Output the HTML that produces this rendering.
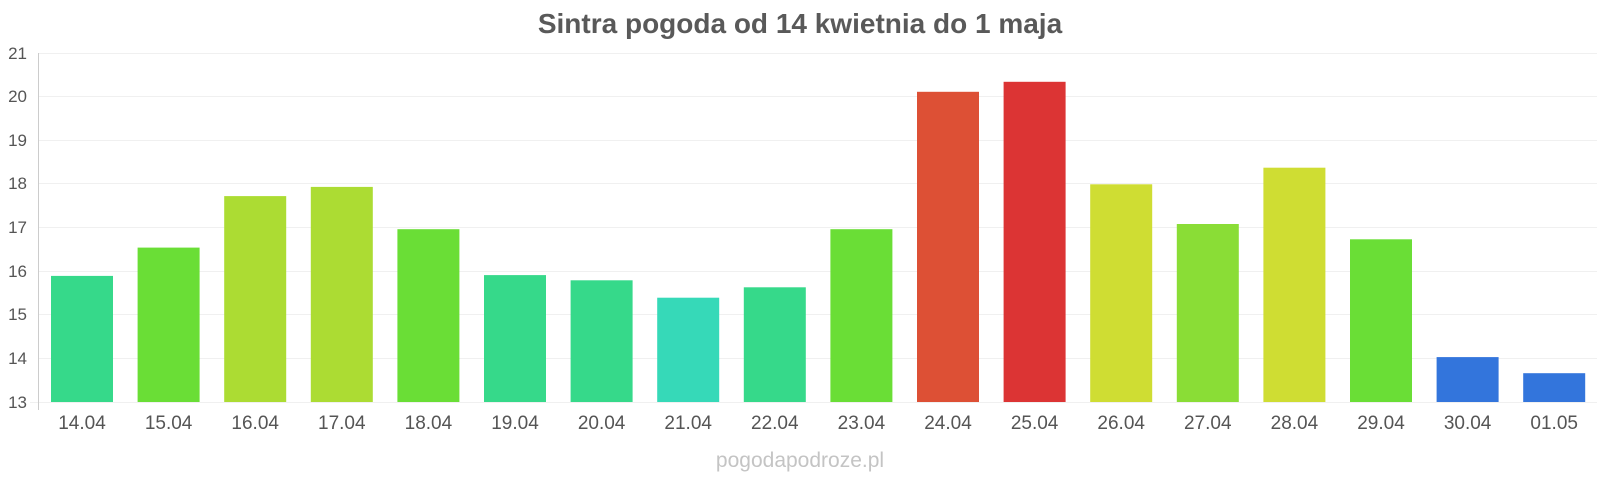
<!DOCTYPE html>
<html><head><meta charset="utf-8"><style>
html,body{margin:0;padding:0;background:#fff;}
svg{display:block;font-family:"Liberation Sans",sans-serif;}
</style></head><body>
<svg width="1600" height="480" viewBox="0 0 1600 480" xmlns="http://www.w3.org/2000/svg">
<text x="800" y="33" text-anchor="middle" font-size="28" font-weight="bold" fill="#595959">Sintra pogoda od 14 kwietnia do 1 maja</text>
<g stroke="#f0f0f0" stroke-width="1">
<line x1="38" x2="1597" y1="53.5" y2="53.5"/>
<line x1="38" x2="1597" y1="96.5" y2="96.5"/>
<line x1="38" x2="1597" y1="140.5" y2="140.5"/>
<line x1="38" x2="1597" y1="183.5" y2="183.5"/>
<line x1="38" x2="1597" y1="227.5" y2="227.5"/>
<line x1="38" x2="1597" y1="271.5" y2="271.5"/>
<line x1="38" x2="1597" y1="314.5" y2="314.5"/>
<line x1="38" x2="1597" y1="358.5" y2="358.5"/>
<line x1="30" x2="1597" y1="402.5" y2="402.5"/>
</g>
<g font-size="17" fill="#555" text-anchor="end">
<text x="27" y="59">21</text>
<text x="27" y="102">20</text>
<text x="27" y="146">19</text>
<text x="27" y="189">18</text>
<text x="27" y="233">17</text>
<text x="27" y="277">16</text>
<text x="27" y="320">15</text>
<text x="27" y="364">14</text>
<text x="27" y="408">13</text>
</g>
<line x1="38.5" y1="53" x2="38.5" y2="410" stroke="#ccc"/>
<g>
<rect x="51" y="275.9" width="62" height="126.1" fill="#36d98a"/>
<rect x="137.6" y="247.6" width="62" height="154.4" fill="#6ade36"/>
<rect x="224.2" y="196.1" width="62" height="205.9" fill="#acdc33"/>
<rect x="310.8" y="186.9" width="62" height="215.1" fill="#acdc33"/>
<rect x="397.4" y="229.2" width="62" height="172.8" fill="#6ade36"/>
<rect x="484" y="275.1" width="62" height="126.9" fill="#36d98a"/>
<rect x="570.6" y="280.3" width="62" height="121.7" fill="#36d98a"/>
<rect x="657.2" y="297.7" width="62" height="104.3" fill="#36d9b8"/>
<rect x="743.8" y="287.3" width="62" height="114.7" fill="#36d98a"/>
<rect x="830.4" y="229.2" width="62" height="172.8" fill="#6ade36"/>
<rect x="917" y="91.8" width="62" height="310.2" fill="#dd5035"/>
<rect x="1003.6" y="81.8" width="62" height="320.2" fill="#dc3434"/>
<rect x="1090.2" y="184.3" width="62" height="217.7" fill="#cfdd33"/>
<rect x="1176.8" y="224" width="62" height="178" fill="#8add36"/>
<rect x="1263.4" y="167.7" width="62" height="234.3" fill="#cfdd33"/>
<rect x="1350" y="239.3" width="62" height="162.7" fill="#6ade36"/>
<rect x="1436.6" y="357.1" width="62" height="44.9" fill="#3375dc"/>
<rect x="1523.2" y="373.2" width="62" height="28.8" fill="#3375dc"/>
</g>
<g font-size="19" fill="#555" text-anchor="middle">
<text x="82" y="429">14.04</text>
<text x="168.6" y="429">15.04</text>
<text x="255.2" y="429">16.04</text>
<text x="341.8" y="429">17.04</text>
<text x="428.4" y="429">18.04</text>
<text x="515" y="429">19.04</text>
<text x="601.6" y="429">20.04</text>
<text x="688.2" y="429">21.04</text>
<text x="774.8" y="429">22.04</text>
<text x="861.4" y="429">23.04</text>
<text x="948" y="429">24.04</text>
<text x="1034.6" y="429">25.04</text>
<text x="1121.2" y="429">26.04</text>
<text x="1207.8" y="429">27.04</text>
<text x="1294.4" y="429">28.04</text>
<text x="1381" y="429">29.04</text>
<text x="1467.6" y="429">30.04</text>
<text x="1554.2" y="429">01.05</text>
</g>
<text x="800" y="467" text-anchor="middle" font-size="21" fill="#c4c4c4">pogodapodroze.pl</text>
</svg>
</body></html>
